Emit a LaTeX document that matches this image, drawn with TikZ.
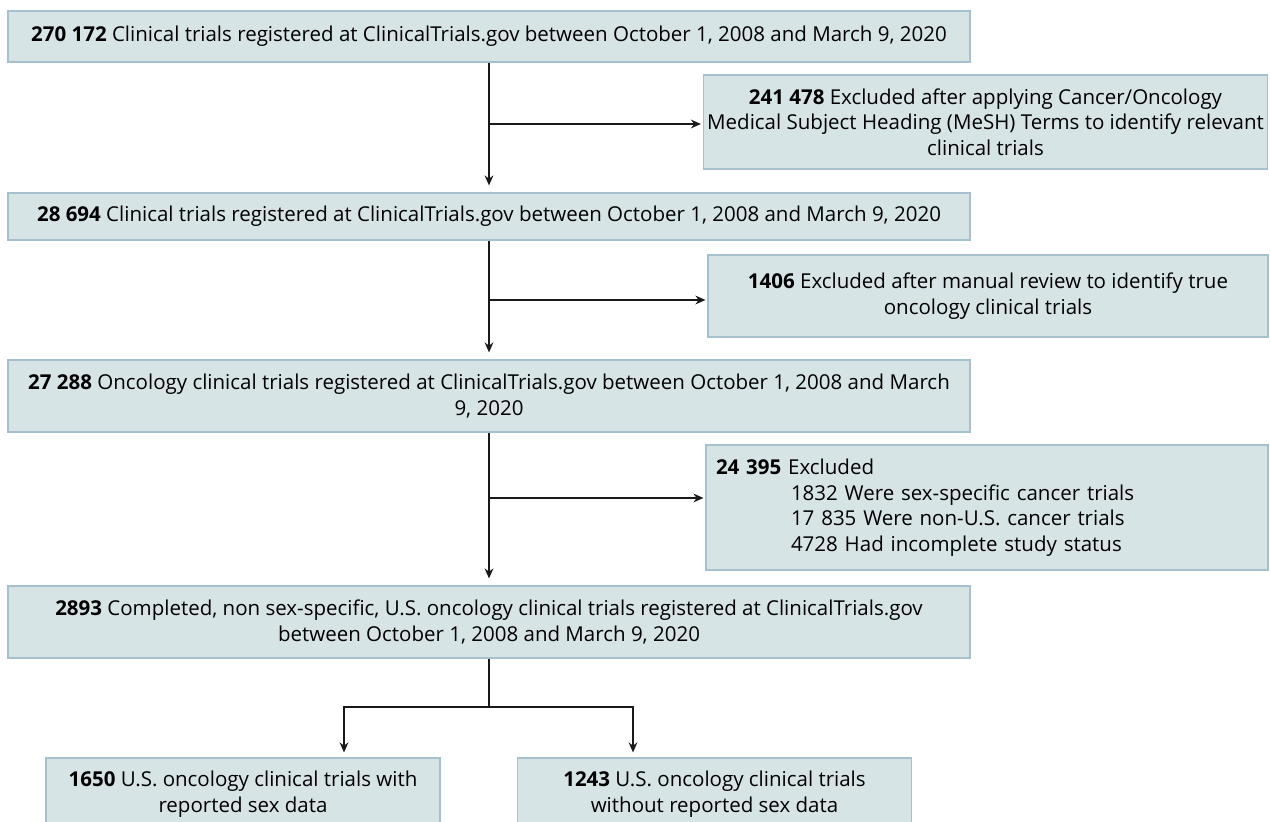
\documentclass[tikz,border=0pt]{standalone}
\usepackage{fontspec}
\setmainfont{Open Sans}
\usepackage{xcolor}
\usetikzlibrary{positioning,calc,arrows.meta}

\definecolor{boxfill}{RGB}{214,228,230}
\definecolor{boxline}{RGB}{165,192,206}

\begin{document}
\begin{tikzpicture}[x=0.5pt, y=-0.5pt,
        block/.style={draw=boxline, fill=boxfill, line width=0.6pt, rectangle, align=center, inner sep=0pt, font=\fontsize{10.25}{12.75}\selectfont},
        wide/.style={block, minimum width=481pt},
        side/.style={block, minimum width=282pt},
        leaf/.style={block, minimum width=197pt, minimum height=36pt},
        flow/.style={->, draw=black!90, line width=0.55pt, shorten >=3.5pt},
        >={Stealth[length=5pt,width=4.4pt]}
    ]
        \useasboundingbox (0,0) rectangle (1270,822);

        % Main flow
        \node [wide, minimum height=25.5pt] (all) at (489,36.5) {\textbf{270 172} Clinical trials registered at ClinicalTrials.gov between October 1, 2008 and March 9, 2020};
        \node [wide, minimum height=23.5pt] (trials) at (489,216.5) {\textbf{28 694} Clinical trials registered at ClinicalTrials.gov between October 1, 2008 and March 9, 2020};
        \node [wide, minimum height=36pt] (onco) at (489,396) {\textbf{27 288} Oncology clinical trials registered at ClinicalTrials.gov between October 1, 2008 and March\\9, 2020};
        \node [wide, minimum height=36pt] (final) at (489,622) {\textbf{2893} Completed, non sex-specific, U.S. oncology clinical trials registered at ClinicalTrials.gov\\between October 1, 2008 and March 9, 2020};

        % Exclusions
        \node [side, minimum height=47pt] (mesh) at (985.5,122) {\textbf{241 478} Excluded after applying Cancer/Oncology\\Medical Subject Heading (MeSH) Terms to identify relevant\\clinical trials};
        \node [side, minimum width=280pt, minimum height=41pt] (review) at (988,296) {\textbf{1406} Excluded after manual review to identify true\\oncology clinical trials};
        \node [side, minimum width=281pt, minimum height=62.5pt, align=left, text width=271pt, inner xsep=5pt] (excl) at (987,507.5) {\textbf{24 395} Excluded\\
            \hspace*{37.5pt}1832 Were sex-specific cancer trials\\
            \hspace*{37.5pt}17 835 Were non-U.S. cancer trials\\
            \hspace*{37.5pt}4728 Had incomplete study status};

        % Outcomes
        \node [leaf] (with) at (243,794) {\textbf{1650} U.S. oncology clinical trials with\\reported sex data};
        \node [leaf] (without) at (714.5,794) {\textbf{1243} U.S. oncology clinical trials\\without reported sex data};

        % Branch points
        \coordinate (b1) at (489,124);
        \coordinate (b2) at (489,300);
        \coordinate (b3) at (489,498);
        \coordinate (split) at (489,707);

        % Connections
        \draw [flow] (all.south) -- (trials.north);
        \draw [flow] (trials.south) -- (onco.north);
        \draw [flow] (onco.south) -- (final.north);
        \draw [flow, shorten >=1pt] (b1) -- (b1 -| mesh.west);
        \draw [flow, shorten >=1pt] (b2) -- (b2 -| review.west);
        \draw [flow, shorten >=1pt] (b3) -- (b3 -| excl.west);
        \draw [draw=black!90, line width=0.55pt] (final.south) -- (split);
        \draw [flow, shorten >=0pt] (split) -| ([xshift=50.5pt, yshift=2.5pt]with.north);
        \draw [flow, shorten >=0pt] (split) -| ([xshift=-40.75pt, yshift=2.5pt]without.north);
    \end{tikzpicture}
\end{document}
